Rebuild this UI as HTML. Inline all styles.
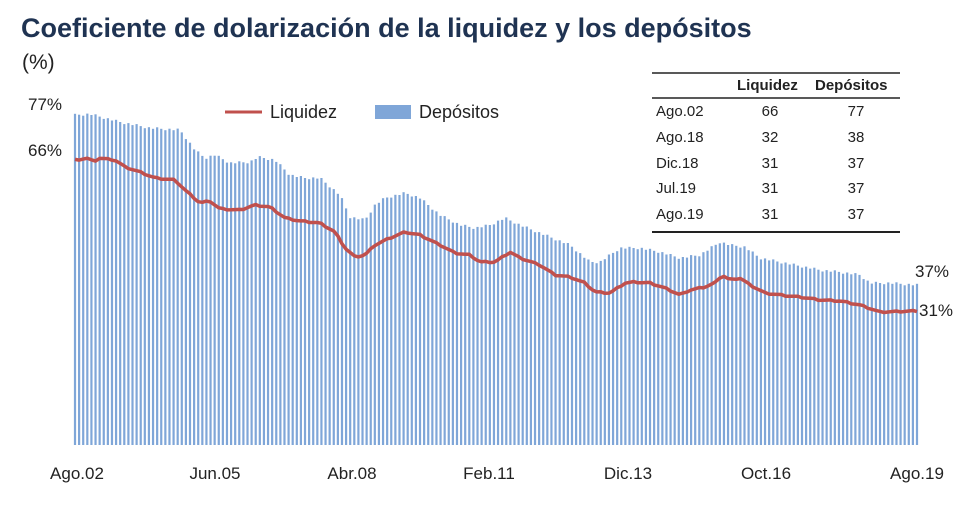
<!DOCTYPE html>
<html><head><meta charset="utf-8">
<style>
body{margin:0;width:980px;height:510px;background:#fff;font-family:"Liberation Sans",sans-serif;overflow:hidden}
svg{position:absolute;left:0;top:0}
</style></head><body>
<svg id="s" width="980" height="510" xmlns="http://www.w3.org/2000/svg">
<text x="21" y="37" font-size="27" font-weight="bold" fill="#1f3352" font-family="Liberation Sans, sans-serif">Coeficiente de dolarización de la liquidez y los depósitos</text>
<text x="22" y="69" font-size="21" fill="#222">(%)</text>
<g id="bars"></g>
<polyline id="line" fill="none" stroke="#c0504d" stroke-width="3.5" stroke-linejoin="round"/>
<text x="28" y="110" font-size="17" fill="#222">77%</text>
<text x="28" y="156" font-size="17" fill="#222">66%</text>
<text x="915" y="277" font-size="17" fill="#222">37%</text>
<text x="919" y="316" font-size="17" fill="#222">31%</text>
<line x1="225" y1="112" x2="262" y2="112" stroke="#c0504d" stroke-width="3"/>
<text x="270" y="118" font-size="18" fill="#222">Liquidez</text>
<rect x="375" y="105" width="36" height="14" fill="#7fa6d8"/>
<text x="419" y="118" font-size="18" fill="#222">Depósitos</text>
<g font-size="17" fill="#222" text-anchor="middle">
<text x="77" y="479">Ago.02</text><text x="215" y="479">Jun.05</text><text x="352" y="479">Abr.08</text>
<text x="489" y="479">Feb.11</text><text x="628" y="479">Dic.13</text><text x="766" y="479">Oct.16</text><text x="917" y="479">Ago.19</text>
</g>
<line x1="652" y1="73" x2="900" y2="73" stroke="#222" stroke-width="1.5"/>
<line x1="652" y1="98" x2="900" y2="98" stroke="#222" stroke-width="1.5"/>
<line x1="652" y1="232" x2="900" y2="232" stroke="#222" stroke-width="2"/>
<g font-size="15" fill="#222">
<text x="737" y="90" font-weight="bold">Liquidez</text><text x="815" y="90" font-weight="bold">Depósitos</text>
<text x="656" y="116">Ago.02</text><text x="656" y="142">Ago.18</text><text x="656" y="168">Dic.18</text><text x="656" y="193">Jul.19</text><text x="656" y="219">Ago.19</text>
</g>
<g font-size="15" fill="#222" text-anchor="middle">
<text x="770" y="116">66</text><text x="856" y="116">77</text>
<text x="770" y="142">32</text><text x="856" y="142">38</text>
<text x="770" y="168">31</text><text x="856" y="168">37</text>
<text x="770" y="193">31</text><text x="856" y="193">37</text>
<text x="770" y="219">31</text><text x="856" y="219">37</text>
</g>
</svg>
<script>
var D=[[75,115],[90,114],[120,122],[150,128],[180,130],[195,150],[205,158],[215,155],[230,163],[250,162],[258,157],[275,160],[290,175],[305,178],[320,178],[340,195],[350,217],[365,220],[375,205],[385,198],[405,193],[420,198],[440,215],[460,225],[475,228],[490,225],[505,218],[520,225],[545,235],[570,245],[590,262],[600,262],[620,248],[640,248],[660,252],[680,258],[700,255],[720,242],[730,245],[745,247],[760,258],[780,262],[800,266],[820,270],[840,272],[860,275],[870,283],[890,283],[917,285]];
var L=[[75,160],[90,158],[93,163],[98,158],[115,160],[125,167],[140,172],[155,178],[175,180],[185,190],[200,203],[210,201],[220,209],[240,210],[255,205],[270,207],[285,218],[300,221],[320,223],[335,232],[345,248],[355,257],[365,255],[375,245],[390,238],[405,232],[420,235],[440,245],[455,253],[470,255],[480,262],[495,262],[510,252],[520,258],[540,265],[555,275],[570,277],[585,283],[595,292],[610,293],[625,283],[635,282],[650,283],[665,288],[680,295],[690,290],[705,287],[715,283],[722,275],[730,280],[740,278],[750,285],[765,293],[780,295],[800,297],[820,300],[840,301],[860,305],[880,312],[917,311]];
function f(P,x){for(var i=0;i<P.length-1;i++){if(x<=P[i+1][0]){var t=(x-P[i][0])/(P[i+1][0]-P[i][0]);return P[i][1]+t*(P[i+1][1]-P[i][1]);}}return P[P.length-1][1];}
var n=206,g=document.getElementById('bars'),h='',pts=[];
for(var i=0;i<n;i++){var x=75+i*(917-75)/(n-1);var y=f(D,x)+((i*7)%5-2)*0.6;
h+='<rect x="'+(x-1.1).toFixed(2)+'" y="'+y.toFixed(1)+'" width="2.2" height="'+(445-y).toFixed(1)+'" fill="#7fa6d8"/>';
pts.push(x.toFixed(1)+','+(f(L,x)+((i*3)%4-1.5)*0.4).toFixed(1));}
g.innerHTML=h;document.getElementById('line').setAttribute('points',pts.join(' '));
</script>
</body></html>
